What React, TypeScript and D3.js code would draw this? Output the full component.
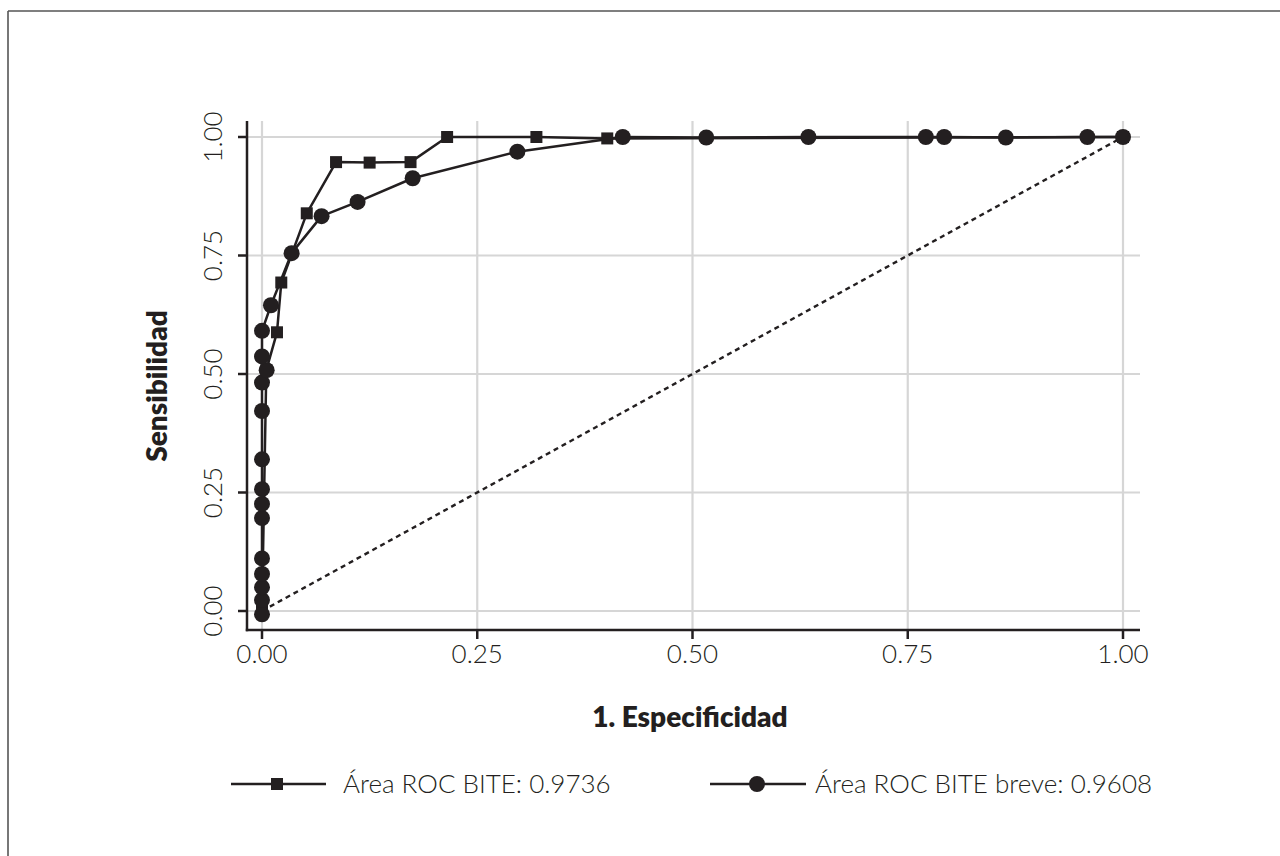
import React from "react";
import * as d3 from "d3";

const xTicks = [0, 0.25, 0.5, 0.75, 1];
const yTicks = [0, 0.25, 0.5, 0.75, 1];

// BITE (squares): [1 - especificidad, sensibilidad]
const biteX = [0, 0.005, 0.0174, 0.0224, 0.052, 0.086, 0.125, 0.1725, 0.215, 0.3187, 0.401, 1];
const biteY = [0, 0.508, 0.588, 0.693, 0.839, 0.947, 0.946, 0.947, 1.0, 1.0, 0.997, 1.0];

// BITE breve (circles)
const breveX = [0, 0, 0, 0, 0, 0, 0, 0, 0, 0, 0, 0.0054, 0, 0, 0.0104, 0.0344, 0.0692, 0.111, 0.175, 0.2966, 0.419, 0.516, 0.6346, 0.771, 0.7923, 0.8639, 0.9586, 1.0];
const breveY = [-0.007, 0.023, 0.05, 0.078, 0.111, 0.196, 0.226, 0.257, 0.32, 0.422, 0.482, 0.508, 0.537, 0.591, 0.645, 0.755, 0.833, 0.863, 0.913, 0.969, 1.0, 0.999, 1.0, 1.0, 1.0, 0.999, 1.0, 1.0];

const legendLabels = ["Área ROC BITE: 0.9736", "Área ROC BITE breve: 0.9608"];
const xTitle = "1. Especificidad";
const yTitle = "Sensibilidad";

const INK = "#231f20";
const GRID = "#d6d6d6";
const FONT = "Lato, 'Open Sans', sans-serif";

export default function App() {
  const x = d3.scaleLinear().domain([0, 1]).range([262, 1123]);
  const y = d3.scaleLinear().domain([0, 1]).range([611, 137]);
  const axisX = 247;
  const axisY = 630;
  const top = 121;
  const right = 1140;

  const bite = biteX.map((v, i) => [v, biteY[i]] as [number, number]);
  const breve = breveX.map((v, i) => [v, breveY[i]] as [number, number]);
  const line = d3
    .line<[number, number]>()
    .x((d) => x(d[0]))
    .y((d) => y(d[1]));

  const sq = 12;
  const r = 8;

  return (
    <svg
      width={1280}
      height={856}
      style={{ position: "absolute", left: 0, top: 0, background: "#fff" }}
    >
      <rect x={0} y={0} width={1280} height={856} fill="#fff" />
      {/* frame */}
      <line x1={8} y1={11} x2={1280} y2={11} stroke="#555" strokeWidth={1.6} />
      <line x1={8} y1={11} x2={8} y2={856} stroke="#555" strokeWidth={1.6} />

      {/* grid */}
      {xTicks.map((t) => (
        <line key={"gx" + t} x1={x(t)} x2={x(t)} y1={top} y2={axisY} stroke={GRID} strokeWidth={2.2} />
      ))}
      {yTicks.map((t) => (
        <line key={"gy" + t} x1={axisX} x2={right} y1={y(t)} y2={y(t)} stroke={GRID} strokeWidth={2.2} />
      ))}

      {/* diagonal reference */}
      <line
        x1={x(0)}
        y1={y(0)}
        x2={x(1)}
        y2={y(1)}
        stroke={INK}
        strokeWidth={2.4}
        strokeDasharray="5 4"
      />

      {/* series lines */}
      <path d={line(bite) || ""} fill="none" stroke={INK} strokeWidth={2.5} strokeLinejoin="round" />
      <path d={line(breve) || ""} fill="none" stroke={INK} strokeWidth={2.5} strokeLinejoin="round" />

      {/* markers */}
      {bite.map((d, i) => (
        <rect key={"s" + i} x={x(d[0]) - sq / 2} y={y(d[1]) - sq / 2} width={sq} height={sq} fill={INK} />
      ))}
      {breve.map((d, i) => (
        <circle key={"c" + i} cx={x(d[0])} cy={y(d[1])} r={r} fill={INK} />
      ))}

      {/* axes */}
      <line x1={axisX} x2={axisX} y1={top} y2={axisY + 1.2} stroke={INK} strokeWidth={2.5} />
      <line x1={axisX - 1.2} x2={right} y1={axisY} y2={axisY} stroke={INK} strokeWidth={2.5} />
      {xTicks.map((t) => (
        <g key={"tx" + t}>
          <line x1={x(t)} x2={x(t)} y1={axisY} y2={axisY + 9} stroke={INK} strokeWidth={2.5} />
          <text
            x={x(t)}
            y={663}
            textAnchor="middle"
            fontFamily={FONT}
            fontWeight={300}
            fontSize={26}
            fill={INK}
          >
            {t.toFixed(2)}
          </text>
        </g>
      ))}
      {yTicks.map((t) => (
        <g key={"ty" + t}>
          <line x1={axisX - 9} x2={axisX} y1={y(t)} y2={y(t)} stroke={INK} strokeWidth={2.5} />
          <text
            transform={`translate(222,${y(t)}) rotate(-90)`}
            textAnchor="middle"
            fontFamily={FONT}
            fontWeight={300}
            fontSize={26}
            fill={INK}
          >
            {t.toFixed(2)}
          </text>
        </g>
      ))}

      {/* titles */}
      <text x={690} y={727} textAnchor="middle" fontFamily={FONT} fontWeight={800} fontSize={28} fill={INK}>
        {xTitle}
      </text>
      <text
        transform={`translate(167,386) rotate(-90)`}
        textAnchor="middle"
        fontFamily={FONT}
        fontWeight={800}
        fontSize={28}
        fill={INK}
      >
        {yTitle}
      </text>

      {/* legend */}
      <g>
        <line x1={231} x2={326} y1={784} y2={784} stroke={INK} strokeWidth={2.5} />
        <rect x={277 - sq / 2} y={784 - sq / 2} width={sq} height={sq} fill={INK} />
        <text x={343} y={793} fontFamily={FONT} fontWeight={300} fontSize={26} fill={INK}>
          {legendLabels[0]}
        </text>
        <line x1={710} x2={806} y1={784} y2={784} stroke={INK} strokeWidth={2.5} />
        <circle cx={757} cy={784} r={r} fill={INK} />
        <text x={815} y={793} fontFamily={FONT} fontWeight={300} fontSize={26} fill={INK}>
          {legendLabels[1]}
        </text>
      </g>
    </svg>
  );
}
